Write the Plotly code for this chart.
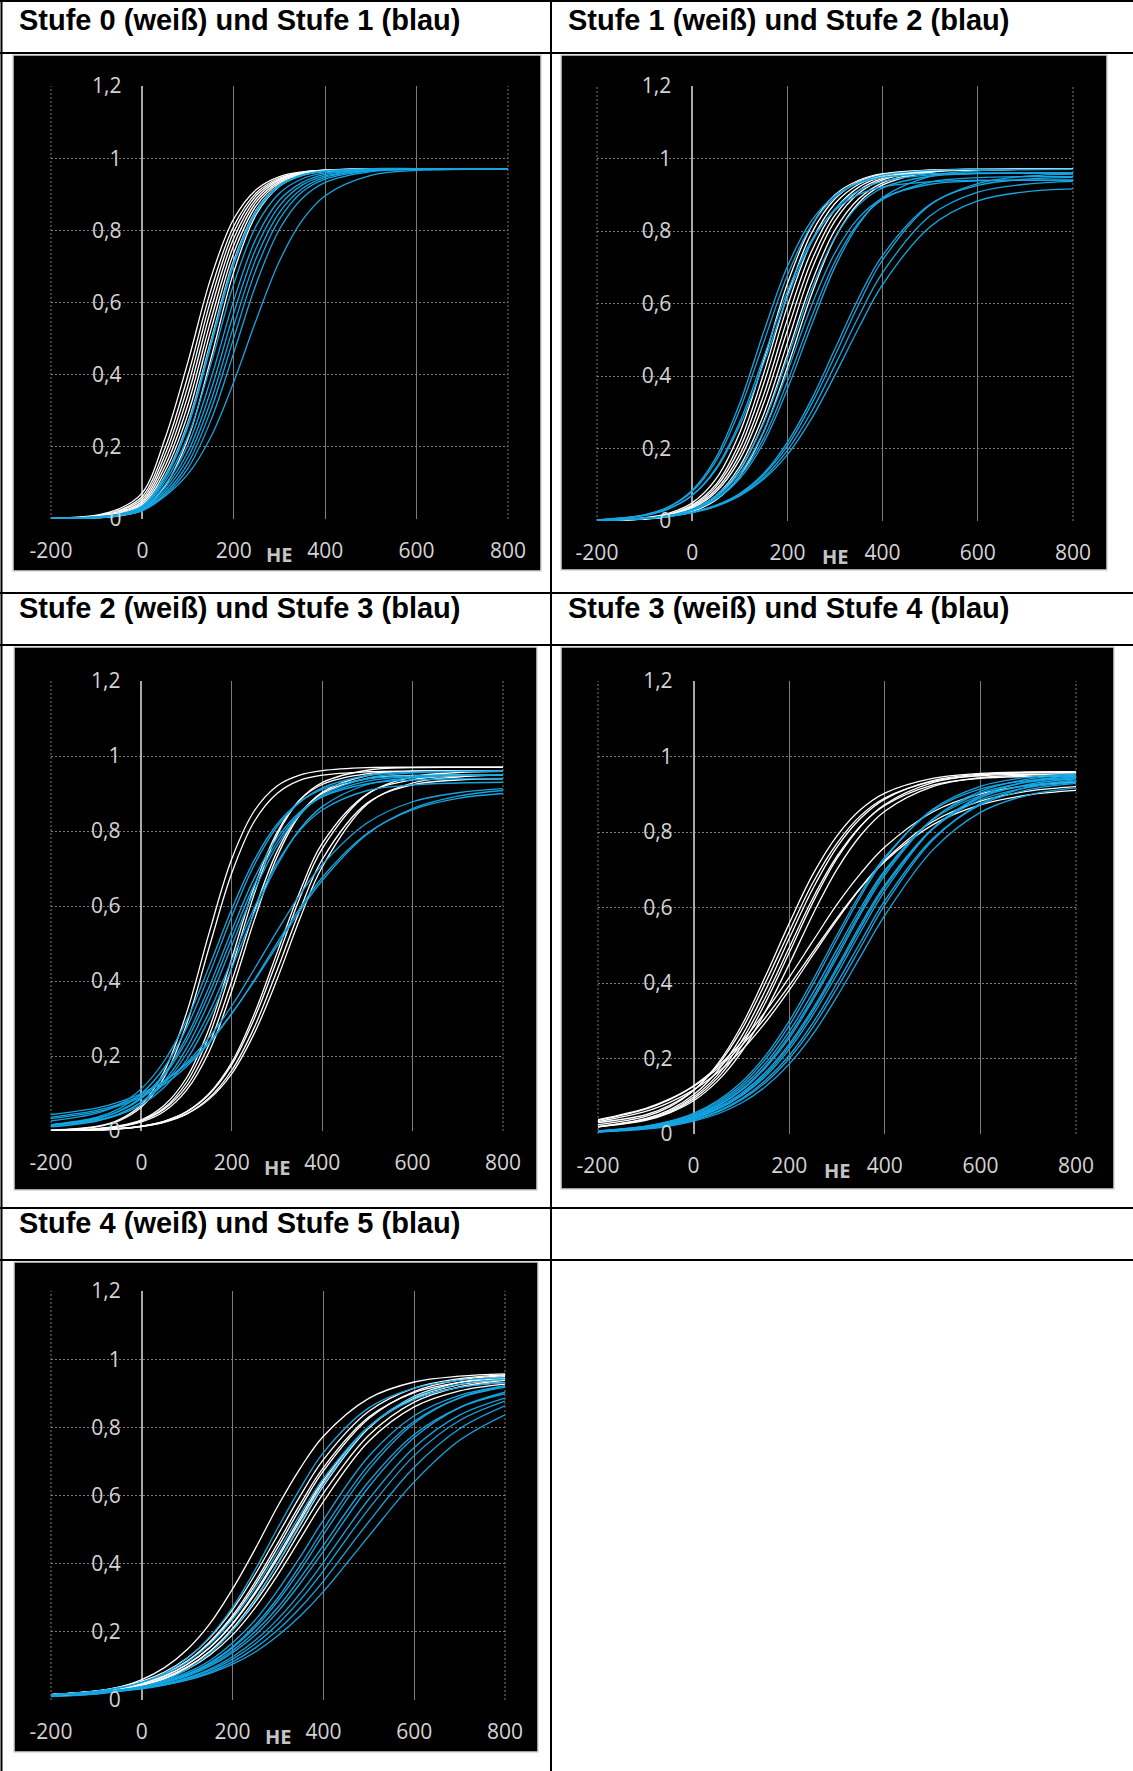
import plotly.graph_objects as go

W, H = 1133, 1771

# ---------------- data ----------------
XS = [-200, -100, -50, 0, 50, 100, 150, 200, 250, 300, 350, 400, 500, 600, 700, 800]

X_TICKS = [-200, 0, 200, 400, 600, 800]
X_TICK_LABELS = ["-200", "0", "200", "400", "600", "800"]
Y_TICKS = [0, 0.2, 0.4, 0.6, 0.8, 1.0, 1.2]
Y_TICK_LABELS = ["0", "0,2", "0,4", "0,6", "0,8", "1", "1,2"]
X_TITLE = "HE"

TITLES = [
    "Stufe 0 (weiß) und Stufe 1 (blau)",
    "Stufe 1 (weiß) und Stufe 2 (blau)",
    "Stufe 2 (weiß) und Stufe 3 (blau)",
    "Stufe 3 (weiß) und Stufe 4 (blau)",
    "Stufe 4 (weiß) und Stufe 5 (blau)",
]

P1_WHITE = [
    [.002, .011, .029, .073, .225, .437, .669, .832, .914, .949, .962, .967, .97, .97, .97, .97],
    [.001, .009, .024, .063, .198, .399, .635, .812, .905, .945, .961, .967, .97, .97, .97, .97],
    [.001, .008, .022, .056, .180, .371, .608, .796, .898, .942, .960, .966, .97, .97, .97, .97],
    [.001, .007, .019, .050, .163, .344, .581, .778, .889, .939, .958, .966, .97, .97, .97, .97],
    [.001, .006, .017, .045, .147, .318, .552, .759, .880, .935, .957, .965, .97, .97, .97, .97],
    [.001, .006, .015, .040, .133, .292, .524, .738, .870, .931, .955, .964, .97, .97, .97, .97],
    [.001, .005, .014, .036, .120, .269, .495, .717, .858, .926, .953, .964, .97, .97, .97, .97],
    [.000, .003, .009, .026, .092, .223, .445, .685, .846, .922, .953, .964, .97, .97, .97, .97],
]
P1_BLUE = [
    [.001, .005, .013, .035, .116, .261, .485, .709, .854, .924, .953, .964, .97, .97, .97, .97],
    [.001, .005, .013, .033, .105, .230, .430, .652, .815, .903, .943, .959, .968, .97, .97, .97],
    [.001, .005, .013, .030, .095, .206, .389, .606, .781, .884, .933, .955, .967, .97, .97, .97],
    [.001, .005, .012, .028, .087, .187, .357, .571, .754, .868, .926, .951, .967, .97, .97, .97],
    [.001, .005, .011, .026, .079, .171, .328, .536, .726, .850, .916, .947, .966, .969, .97, .97],
    [.001, .004, .010, .024, .072, .155, .303, .502, .696, .831, .907, .942, .965, .969, .97, .97],
    [.001, .004, .010, .023, .067, .141, .274, .461, .655, .803, .889, .933, .963, .969, .97, .97],
    [.001, .006, .012, .024, .064, .125, .228, .380, .555, .715, .828, .896, .952, .966, .969, .97],
]

P2_WHITE = [
    [.001, .009, .021, .050, .116, .244, .441, .655, .812, .900, .940, .958, .968, .97, .97, .97],
    [.001, .007, .018, .044, .101, .218, .406, .622, .792, .889, .936, .956, .968, .97, .97, .97],
    [.001, .007, .017, .041, .094, .201, .378, .592, .769, .876, .929, .953, .967, .97, .97, .97],
    [.001, .007, .016, .038, .086, .183, .348, .557, .742, .859, .921, .949, .966, .969, .97, .97],
    [.001, .007, .015, .035, .080, .170, .324, .526, .715, .844, .912, .945, .965, .969, .97, .97],
    [.001, .006, .013, .031, .070, .151, .294, .492, .690, .828, .904, .941, .965, .969, .97, .97],
    [.001, .006, .013, .030, .067, .141, .274, .461, .655, .803, .889, .933, .963, .969, .97, .97],
    [.001, .005, .012, .026, .058, .124, .246, .425, .622, .781, .878, .927, .962, .968, .97, .97],
]
P2_BLUE = [
    [.003, .017, .039, .085, .175, .325, .521, .702, .827, .898, .932, .948, .958, .96, .96, .96],
    [.003, .017, .038, .081, .166, .307, .492, .678, .814, .893, .934, .954, .967, .97, .97, .97],
    [.003, .015, .033, .071, .146, .274, .451, .634, .773, .857, .901, .922, .936, .94, .94, .94],
    [.003, .016, .034, .071, .142, .264, .434, .618, .767, .861, .912, .937, .955, .959, .96, .96],
    [.001, .007, .015, .033, .070, .143, .270, .449, .637, .782, .872, .919, .951, .958, .96, .96],
    [.001, .007, .014, .031, .066, .132, .247, .412, .592, .740, .837, .890, .929, .938, .94, .94],
    [.002, .007, .014, .030, .062, .123, .228, .384, .560, .716, .824, .887, .935, .947, .95, .95],
    [.002, .007, .014, .030, .060, .117, .216, .364, .538, .701, .819, .892, .951, .966, .969, .97],
    [.002, .007, .013, .024, .043, .076, .131, .217, .334, .475, .616, .733, .874, .926, .943, .948],
    [.002, .007, .013, .024, .043, .074, .127, .207, .321, .456, .598, .720, .872, .931, .951, .957],
    [.002, .007, .013, .024, .041, .071, .120, .195, .300, .430, .565, .685, .842, .907, .929, .937],
    [.002, .008, .013, .023, .040, .069, .115, .183, .281, .403, .533, .652, .812, .883, .908, .916],
]

P3_WHITE = [
    [.002, .012, .030, .070, .158, .315, .529, .726, .854, .920, .949, .961, .969, .97, .97, .97],
    [.002, .011, .027, .064, .142, .285, .490, .688, .826, .900, .935, .949, .958, .96, .96, .96],
    [.001, .006, .014, .030, .068, .142, .274, .461, .652, .796, .882, .924, .953, .959, .96, .96],
    [.001, .005, .012, .028, .061, .130, .255, .437, .633, .789, .882, .929, .962, .969, .97, .97],
    [.001, .005, .012, .027, .058, .119, .232, .400, .587, .745, .846, .900, .940, .948, .95, .95],
    [.001, .005, .011, .024, .052, .109, .212, .374, .563, .731, .842, .903, .948, .958, .96, .96],
    [.001, .003, .006, .013, .026, .052, .100, .183, .313, .475, .637, .767, .899, .937, .947, .949],
    [.001, .003, .007, .013, .026, .051, .098, .177, .300, .456, .620, .753, .898, .944, .956, .959],
    [.001, .003, .006, .012, .024, .046, .089, .162, .277, .428, .587, .724, .875, .923, .936, .939],
    [.001, .003, .006, .012, .023, .045, .085, .153, .261, .404, .564, .704, .872, .928, .944, .949],
]
P3_BLUE = [
    [.027, .047, .070, .113, .186, .295, .439, .592, .723, .818, .877, .911, .939, .947, .949, .95],
    [.017, .036, .059, .100, .168, .275, .417, .572, .710, .811, .876, .915, .948, .957, .959, .96],
    [.016, .033, .053, .090, .152, .251, .385, .535, .675, .781, .850, .891, .926, .936, .939, .94],
    [.016, .033, .052, .087, .147, .240, .367, .515, .657, .770, .846, .892, .933, .945, .949, .95],
    [.011, .026, .044, .077, .132, .221, .346, .494, .641, .760, .843, .895, .941, .955, .959, .96],
    [.016, .030, .046, .076, .126, .206, .317, .456, .596, .715, .801, .856, .908, .923, .928, .93],
    [.015, .028, .043, .070, .116, .190, .299, .435, .582, .708, .804, .865, .924, .942, .948, .95],
    [.037, .055, .071, .096, .132, .182, .250, .334, .432, .533, .629, .710, .822, .878, .902, .913],
    [.033, .051, .067, .091, .124, .172, .234, .313, .403, .501, .593, .676, .794, .857, .887, .900],
    [.044, .061, .077, .100, .133, .178, .238, .314, .400, .493, .586, .668, .792, .860, .893, .908],
]

P4_WHITE = [
    [.025, .047, .072, .115, .185, .286, .417, .558, .689, .790, .860, .903, .942, .955, .959, .96],
    [.030, .051, .076, .116, .181, .275, .400, .536, .667, .770, .844, .890, .934, .949, .953, .954],
    [.020, .041, .064, .104, .167, .258, .380, .518, .651, .760, .837, .887, .936, .953, .958, .959],
    [.019, .040, .061, .098, .156, .245, .361, .494, .626, .736, .817, .870, .924, .942, .947, .949],
    [.019, .038, .058, .093, .148, .232, .347, .480, .615, .730, .816, .873, .931, .951, .957, .959],
    [.019, .036, .056, .088, .140, .217, .324, .450, .583, .701, .792, .855, .920, .944, .951, .954],
    [.036, .066, .091, .126, .173, .234, .308, .393, .483, .572, .653, .722, .819, .872, .898, .910],
    [.033, .060, .084, .117, .162, .221, .295, .381, .475, .567, .653, .725, .827, .882, .908, .920],
    [.038, .068, .093, .128, .178, .243, .324, .415, .512, .608, .691, .760, .853, .901, .923, .933],
]
P4_BLUE = [
    [.008, .021, .034, .055, .088, .137, .207, .299, .409, .527, .639, .733, .857, .914, .936, .945],
    [.007, .020, .033, .053, .084, .130, .198, .287, .397, .516, .631, .729, .860, .921, .945, .954],
    [.008, .020, .032, .051, .080, .124, .187, .272, .375, .489, .600, .698, .832, .896, .923, .934],
    [.007, .019, .030, .048, .076, .118, .179, .261, .363, .477, .591, .693, .834, .903, .932, .943],
    [.007, .018, .030, .047, .074, .115, .175, .254, .356, .468, .584, .686, .834, .908, .940, .952],
    [.007, .018, .028, .045, .070, .108, .163, .238, .333, .442, .556, .659, .808, .885, .918, .931],
    [.006, .017, .027, .043, .067, .104, .157, .232, .326, .435, .548, .653, .809, .891, .926, .941],
    [.006, .016, .026, .041, .065, .101, .152, .224, .316, .423, .537, .644, .808, .895, .934, .950],
    [.006, .015, .024, .038, .060, .093, .142, .208, .295, .400, .510, .618, .782, .872, .912, .929],
    [.006, .015, .023, .037, .058, .090, .136, .200, .284, .386, .496, .607, .778, .875, .919, .938],
    [.005, .013, .021, .034, .053, .082, .125, .185, .265, .364, .472, .579, .752, .852, .898, .917],
]

P5_WHITE = [
    [.012, .025, .038, .060, .095, .148, .224, .326, .444, .570, .682, .774, .885, .933, .950, .957],
    [.016, .027, .038, .055, .082, .123, .183, .265, .369, .485, .601, .705, .847, .915, .943, .954],
    [.016, .026, .035, .051, .076, .114, .171, .248, .347, .461, .577, .682, .830, .902, .932, .943],
    [.016, .026, .036, .051, .076, .113, .167, .242, .338, .449, .565, .672, .826, .905, .939, .952],
    [.015, .025, .034, .048, .070, .104, .155, .225, .317, .424, .537, .644, .802, .883, .918, .932],
    [.016, .025, .034, .049, .071, .105, .154, .223, .312, .417, .529, .636, .799, .886, .925, .940],
    [.011, .019, .028, .042, .063, .095, .143, .210, .297, .402, .516, .628, .798, .891, .932, .949],
    [.016, .024, .033, .046, .066, .097, .142, .205, .288, .387, .499, .606, .777, .874, .919, .938],
    [.015, .023, .031, .043, .062, .090, .132, .191, .271, .368, .475, .582, .759, .860, .907, .927],
]
P5_BLUE = [
    [.015, .025, .035, .052, .079, .122, .186, .272, .383, .506, .623, .726, .857, .915, .938, .946],
    [.016, .026, .036, .052, .075, .111, .164, .237, .329, .436, .547, .650, .802, .882, .917, .931],
    [.010, .017, .025, .038, .058, .090, .137, .204, .294, .403, .520, .632, .802, .889, .927, .941],
    [.015, .022, .029, .040, .056, .081, .116, .168, .235, .323, .422, .528, .715, .834, .894, .921],
    [.015, .022, .028, .038, .053, .076, .109, .156, .220, .300, .397, .501, .690, .818, .886, .917],
    [.015, .022, .029, .039, .053, .076, .107, .153, .213, .291, .383, .485, .676, .812, .887, .922],
    [.015, .022, .029, .038, .052, .073, .103, .145, .201, .272, .360, .454, .641, .779, .858, .898],
    [.015, .022, .028, .037, .051, .070, .099, .139, .191, .260, .344, .436, .625, .770, .858, .903],
    [.015, .021, .027, .035, .047, .065, .091, .127, .175, .238, .315, .404, .589, .741, .836, .886],
    [.015, .021, .027, .034, .046, .063, .087, .120, .165, .223, .295, .379, .561, .717, .820, .877],
    [.015, .021, .027, .034, .045, .060, .082, .112, .153, .206, .272, .349, .523, .683, .796, .863],
    [.015, .021, .026, .033, .044, .058, .078, .105, .141, .189, .248, .318, .481, .640, .762, .837],
]

PANEL_DATA = [
    (P1_WHITE, P1_BLUE),
    (P2_WHITE, P2_BLUE),
    (P3_WHITE, P3_BLUE),
    (P4_WHITE, P4_BLUE),
    (P5_WHITE, P5_BLUE),
]

# ---------------- layout geometry (pixels) ----------------
# plot area: left (x=-200), right (x=800), top (y=1.2), bottom (y=0)
PLOTS = [
    (51, 508, 86, 519),
    (597, 1073, 86, 521),
    (51, 503, 681, 1131),
    (598, 1076, 681, 1134),
    (51, 505, 1291, 1700),
]
# black chart boxes: left, top, right, bottom
BOXES = [
    (13, 55, 541, 571),
    (561, 55, 1107, 570),
    (14, 647, 537, 1190),
    (561, 647, 1114, 1189),
    (14, 1262, 538, 1752),
]
TITLE_POS = [(17, 20), (566, 20), (17, 608), (566, 608), (17, 1223)]

WHITE = "#ffffff"
BLUE = "#13a6e2"
LABEL_C = "#d4d4d4"
GRID_C = "#7c7c7c"


def fx(px):
    return px / W


def fy(py):
    return 1 - py / H


fig = go.Figure()
layout = dict(
    width=W, height=H,
    autosize=False,
    margin=dict(l=0, r=0, t=0, b=0, pad=0, autoexpand=False),
    paper_bgcolor="white",
    plot_bgcolor="rgba(0,0,0,0)",
    showlegend=False,
    hovermode=False,
)

shapes = []
annotations = []

tick_font = dict(family="Open Sans, DejaVu Sans, sans-serif", size=21, color=LABEL_C)

for i, ((whites, blues), (l, r, t, b), box, tpos, title) in enumerate(
        zip(PANEL_DATA, PLOTS, BOXES, TITLE_POS, TITLES), start=1):
    xa = "x" if i == 1 else f"x{i}"
    ya = "y" if i == 1 else f"y{i}"
    xkey = "xaxis" if i == 1 else f"xaxis{i}"
    ykey = "yaxis" if i == 1 else f"yaxis{i}"

    for series, col in ((whites, WHITE), (blues, BLUE)):
        for k, ys in enumerate(series):
            lw = 2.2 if (i == 1 and col == BLUE and k == 0) else 1.3
            fig.add_trace(go.Scatter(
                x=XS, y=ys, mode="lines",
                line=dict(color=col, width=lw, shape="spline", smoothing=1.0),
                xaxis=xa, yaxis=ya, hoverinfo="skip", showlegend=False,
            ))

    d0, d1 = fx(l), fx(r)
    layout[xkey] = dict(
        domain=[d0, d1], anchor=ya, range=[-200, 800], automargin=False,
        tickmode="array", tickvals=X_TICKS, ticktext=X_TICK_LABELS,
        showgrid=True, gridcolor=GRID_C, gridwidth=1, griddash="solid",
        zeroline=True, zerolinecolor="#a9a9a9", zerolinewidth=1.5,
        showline=False, ticks="", ticklabelstandoff=17,
        tickfont=tick_font, fixedrange=True,
    )
    x0_pos = d0 + (0 - (-200)) / 1000 * (d1 - d0)
    layout[ykey] = dict(
        domain=[fy(b), fy(t)], anchor="free", position=x0_pos, automargin=False,
        range=[0, 1.2], tickmode="array", tickvals=Y_TICKS, ticktext=Y_TICK_LABELS,
        showgrid=True, gridcolor=GRID_C, gridwidth=1, griddash="2px,2px",
        zeroline=False, showline=False, ticks="", ticklabelstandoff=21,
        tickfont=tick_font, fixedrange=True,
    )

    # black chart box
    bl, bt, br, bb = box
    shapes.append(dict(type="rect", xref="paper", yref="paper",
                       x0=fx(bl), x1=fx(br), y0=fy(bb), y1=fy(bt),
                       fillcolor="black", line=dict(color="#d6d6d6", width=1.5),
                       layer="below"))
    # dotted left/right edges of the plot area
    for ex in (0, 1):
        shapes.append(dict(type="line", xref=f"{xa} domain", yref=f"{ya} domain",
                           x0=ex, x1=ex, y0=0, y1=1,
                           line=dict(color=GRID_C, width=1, dash="2px,2px"),
                           layer="below"))

    # axis title "HE"
    annotations.append(dict(
        text=f"<b>{X_TITLE}</b>", xref=f"{xa} domain", yref=f"{ya} domain",
        x=0.5, y=0, yshift=-36, xanchor="center", yanchor="middle",
        showarrow=False, font=dict(family="Open Sans, sans-serif", size=20, color="#c4c4c4"),
    ))

    # cell title
    annotations.append(dict(
        text=f"<b>{title}</b>", xref="paper", yref="paper",
        x=fx(tpos[0]), y=fy(tpos[1]), xanchor="left", yanchor="middle",
        showarrow=False, font=dict(family="Liberation Sans, Arial, sans-serif", size=29, color="black"),
    ))

# table lines
LINE = dict(color="black", width=2)
for py in (1, 53, 593, 645, 1208, 1260):
    shapes.append(dict(type="line", xref="paper", yref="paper",
                       x0=0, x1=1, y0=fy(py), y1=fy(py), line=LINE, layer="above"))
for px in (1.5, 551):
    shapes.append(dict(type="line", xref="paper", yref="paper",
                       x0=fx(px), x1=fx(px), y0=0, y1=1, line=LINE, layer="above"))

layout["shapes"] = shapes
layout["annotations"] = annotations
fig.update_layout(**layout)

fig.write_html(
    "out.html",
    config={"responsive": False, "displayModeBar": False},
    post_script="document.body.style.margin='0';document.body.style.padding='0';",
)
